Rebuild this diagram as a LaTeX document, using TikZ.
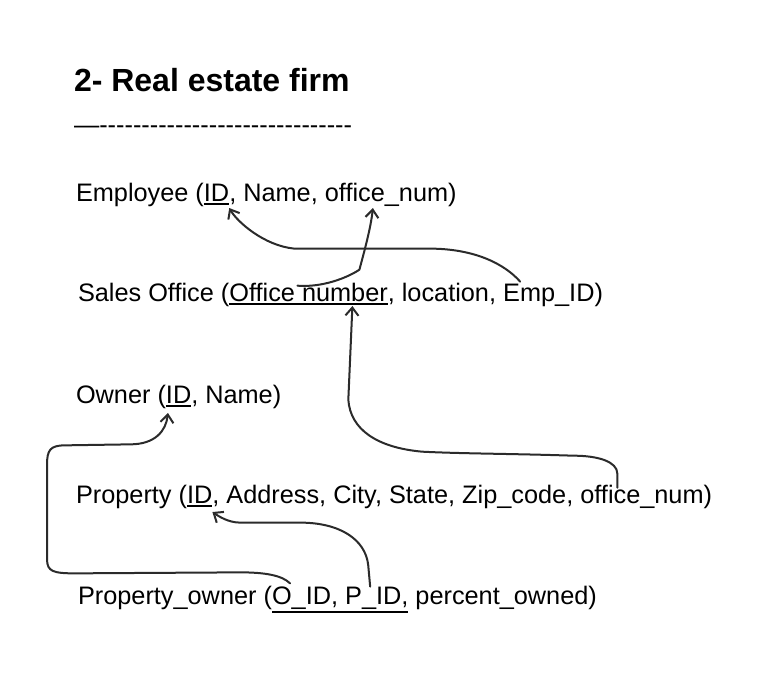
\documentclass[tikz,border=0pt]{standalone}
\usepackage{fontspec}
\setmainfont{Liberation Sans}[Ligatures=TeXOff]
\usetikzlibrary{positioning,arrows.meta}
\definecolor{inkgray}{HTML}{2B2B2B}

% primary-key underline at a fixed depth
\newsavebox\keybox
\newcommand\keyul[2][2pt]{\sbox\keybox{#2}\rlap{\rule[-#1]{\wd\keybox}{0.9pt}}\usebox\keybox}

\begin{document}
\begin{tikzpicture}[
      x=0.5pt, y=-0.5pt,
      font=\fontsize{12.65}{15}\selectfont,
      node distance=0pt,
      txt/.style={inner sep=0pt, outer sep=0pt, anchor=base west},
      ttl/.style={txt, font=\fontsize{16}{19}\selectfont\bfseries},
      fk/.style={line width=1pt, draw=inkgray, line cap=round, line join=round,
                 -{Straight Barb[length=4pt,width=6.5pt]}}
    ]
    \useasboundingbox (0,0) rectangle (763,677);

    % heading
    \node[ttl] (title) at (74,91) {2- Real estate firm};
    \node[txt] (rule) at (74,133) {—------------------------------};

    % relations
    \node[txt] (emp) at (76,201) {Employee (};
    \node[txt, base right=of emp] (empid) {\keyul{ID}};
    \node[txt, base right=of empid] (empmid) {, Name,\ \null};
    \node[txt, base right=of empmid] (empoff) {office\_num};
    \node[txt, base right=of empoff] (empend) {)};

    \node[txt] (soff) at (78,301) {Sales Office (};
    \node[txt, base right=of soff] (soffno) {\keyul{Office number}};
    \node[txt, base right=of soffno] (soffmid) {, location,\ \null};
    \node[txt, base right=of soffmid] (sempid) {Emp\_ID};
    \node[txt, base right=of sempid] (soffend) {)};

    \node[txt] (own) at (76,403) {Owner (};
    \node[txt, base right=of own] (ownid) {\keyul{ID}};
    \node[txt, base right=of ownid] (ownend) {, Name)};

    \node[txt] (prop) at (76,503) {Property (};
    \node[txt, base right=of prop] (propid) {\keyul{ID}};
    \node[txt, base right=of propid] (propmid) {, Address, City, State, Zip\_code,\ \null};
    \node[txt, base right=of propmid] (propoff) {office\_num};
    \node[txt, base right=of propoff] (propend) {)};

    \node[txt] (po) at (78,604) {Property\_owner (};
    \node[txt, base right=of po] (poid) {\keyul[4.5pt]{O\_ID}};
    \node[txt, base right=of poid] (pomid) {\keyul[4.5pt]{,\ }};
    \node[txt, base right=of pomid] (ppid) {\keyul[4.5pt]{P\_ID}};
    \node[txt, base right=of ppid] (poend) {\keyul[4.5pt]{,} percent\_owned)};

    % foreign keys
    \draw[fk] ([shift={(17,-2)}]sempid.north west)
      .. controls +(-16,-18) and +(45,0) .. ++(-91,-33) -- ++(-135,0)
      .. controls +(-30,-3) and +(8,14) .. ([shift={(0,3)}]empid.south east);
    \draw[fk] ([shift={(68,3)}]soffno.north west)
      .. controls +(25,2) and +(-12,8) .. ++(62,-16)
      .. controls +(4,-15) and +(-2,20) .. ([shift={(48,2)}]empoff.south west);
    \draw[fk] ([shift={(37,3)}]propoff.north west) -- ++(0,-14)
      .. controls +(0,-12) and +(25,0) .. ++(-44,-18)
      .. controls +(-60,-2) and +(40,2) .. ++(-151,-4)
      .. controls +(-45,-4) and +(2,30) .. ++(-74,-52)
      -- ([shift={(123,1)}]soffno.south west);
    \draw[fk] ([shift={(18,-3)}]poid.north west)
      .. controls +(-8,-8) and +(25,0) .. ++(-50,-11) -- ++(-165,1)
      .. controls +(-22,0) and +(0,12) .. ++(-28,-14) -- ++(0,-95)
      .. controls +(0,-14) and +(-15,0) .. ++(18,-19) -- ++(65,-1)
      .. controls +(25,0) and +(-2,18) .. ([shift={(2,6)}]ownid.south west);
    \draw[fk] ([shift={(25,0)}]ppid.north west) -- ++(-2,-22)
      .. controls +(-3,-25) and +(40,0) .. ++(-68,-42) -- ++(-60,0)
      .. controls +(-12,0) and +(6,4) .. ([shift={(0,5)}]propid.south east);
  \end{tikzpicture}
\end{document}
